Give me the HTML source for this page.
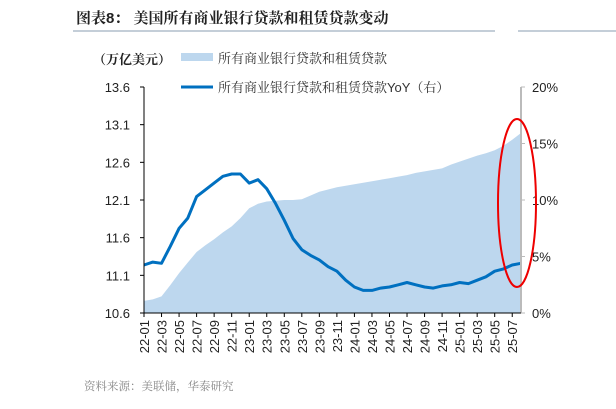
<!DOCTYPE html>
<html><head><meta charset="utf-8"><style>
body{margin:0;width:616px;height:404px;background:#fff;overflow:hidden;font-family:"Liberation Sans","Noto Sans CJK SC",sans-serif}
svg text{font-family:"Liberation Sans","Noto Sans CJK SC",sans-serif}
svg text.cn{font-family:"Liberation Sans","Noto Serif CJK SC",serif}
</style></head><body>
<svg id="c" width="616" height="404">
<text class="cn" x="76" y="23" font-size="15" font-weight="bold" fill="#222">图表8：  美国所有商业银行贷款和租赁贷款变动</text>
<line x1="73" y1="31" x2="495" y2="31" stroke="#8a9cb0" stroke-width="1"/>
<line x1="518" y1="31" x2="616" y2="31" stroke="#8a9cb0" stroke-width="1"/>
<text class="cn" x="93" y="64" font-size="13" font-weight="bold" fill="#222">（万亿美元）</text>
<rect x="181" y="53" width="32" height="8" fill="#bdd7ee"/>
<text class="cn" x="218" y="63" font-size="13" fill="#333">所有商业银行贷款和租赁贷款</text>
<line x1="181" y1="87" x2="213" y2="87" stroke="#0070c0" stroke-width="3"/>
<text class="cn" x="218" y="92" font-size="13" fill="#333">所有商业银行贷款和租赁贷款YoY（右）</text>
<g id="plot"></g>
<text class="cn" x="84" y="390" font-size="11.5" fill="#888">资料来源：美联储，华泰研究</text>
</svg>
<script>
const months=["22-01","22-02","22-03","22-04","22-05","22-06","22-07","22-08","22-09","22-10","22-11","22-12","23-01","23-02","23-03","23-04","23-05","23-06","23-07","23-08","23-09","23-10","23-11","23-12","24-01","24-02","24-03","24-04","24-05","24-06","24-07","24-08","24-09","24-10","24-11","24-12","25-01","25-02","25-03","25-04","25-05","25-06","25-07","25-08"];
const loans=[10.76,10.78,10.82,10.97,11.13,11.27,11.41,11.50,11.58,11.67,11.75,11.86,11.99,12.05,12.08,12.09,12.10,12.10,12.11,12.16,12.21,12.24,12.27,12.29,12.31,12.33,12.35,12.37,12.39,12.41,12.43,12.46,12.48,12.50,12.52,12.57,12.61,12.65,12.69,12.72,12.76,12.82,12.90,12.99];
const yoy=[4.25,4.5,4.4,5.9,7.5,8.4,10.3,10.9,11.5,12.1,12.3,12.3,11.5,11.8,11.0,9.7,8.2,6.6,5.6,5.1,4.7,4.1,3.7,2.9,2.3,2.0,2.0,2.2,2.3,2.5,2.7,2.5,2.3,2.2,2.4,2.5,2.7,2.6,2.9,3.2,3.7,3.9,4.25,4.4];
const leftTicks=[10.6,11.1,11.6,12.1,12.6,13.1,13.6];
const rightTicks=[0,5,10,15,20];
const x0=144,x1=521,yTop=87,yBot=313;
const xs=i=>x0+i*(x1-x0)/(months.length-1);
const yl=v=>yBot-(v-10.6)/3.0*(yBot-yTop);
const yr=v=>yBot-v/20*(yBot-yTop);
const NS="http://www.w3.org/2000/svg";
const g=document.getElementById('plot');
function mk(t,a){const e=document.createElementNS(NS,t);for(const k in a)e.setAttribute(k,a[k]);g.appendChild(e);return e;}
let d="M"+x0+","+yBot;
loans.forEach((v,i)=>{d+=" L"+xs(i).toFixed(1)+","+yl(v).toFixed(1);});
d+=" L"+xs(loans.length-1)+","+yBot+" Z";
let area=mk('path',{d:d,fill:'#bdd7ee'});


let ld="";
yoy.forEach((v,i)=>{ld+=(i?" L":"M")+xs(i).toFixed(1)+","+yr(v).toFixed(1);});
let line=mk('path',{d:ld,fill:'none',stroke:'#0070c0','stroke-width':3,'stroke-linejoin':'round'});


let la=mk('line',{x1:x0,y1:yTop,x2:x0,y2:yBot,stroke:'#000'});


let ra=mk('line',{x1:x1,y1:yTop,x2:x1,y2:yBot,stroke:'#bbb','stroke-width':2});


let xa=mk('line',{x1:x0,y1:yBot,x2:x1,y2:yBot,stroke:'#000'});


leftTicks.forEach(v=>{const y=yl(v);
 mk('line',{x1:x0-4,y1:y,x2:x0,y2:y,stroke:'#000'});
 const t=mk('text',{x:x0-14,y:y+5,'font-size':13,'text-anchor':'end',fill:'#222'});t.textContent=v.toFixed(1);
 
 });
rightTicks.forEach(v=>{const y=yr(v);
 mk('line',{x1:x1,y1:y,x2:x1+4,y2:y,stroke:'#bbb'});
 const t=mk('text',{x:x1+11,y:y+5,'font-size':13,fill:'#222'});t.textContent=v+'%';
 
 });
months.forEach((m,i)=>{if(i%2)return;const x=xs(i);
 mk('line',{x1:x,y1:yBot,x2:x,y2:yBot+4,stroke:'#000'});
 const t=mk('text',{x:0,y:0,'font-size':13,'text-anchor':'end',fill:'#222',transform:`translate(${x+5},${yBot+7}) rotate(-90)`});t.textContent=m;
 
 });
let el=mk('ellipse',{cx:517,cy:203,rx:19,ry:84,fill:'none',stroke:'#e00',"stroke-width":2});


</script>
</body></html>
